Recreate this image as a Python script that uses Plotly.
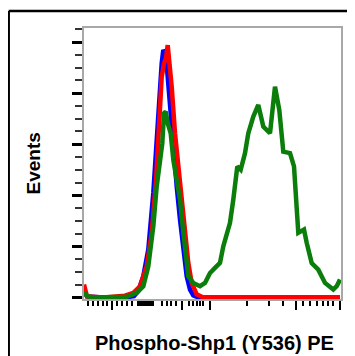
import plotly.graph_objects as go

# channel positions (display units) and event counts (% of max)
blue_x = [0, 3, 20, 40, 50, 54.3, 59.3, 64.3, 69.3, 72.7, 75.3, 77.7, 79.3, 81.7, 83.7, 86.7, 89.3, 92.7, 96, 99.3, 102.7, 106, 109.3, 114.3, 256]
blue_y = [3, 0.4, 0, 0, 0.5, 2.5, 8.3, 18.8, 40.9, 64.3, 82.5, 91.7, 96.9, 95.6, 86.4, 70.8, 57.8, 43.5, 30.5, 18.8, 8.3, 3.1, 0.8, 0, 0]

red_x = [0, 3, 20, 41, 49.3, 56, 62.7, 67.7, 72, 75.3, 77.7, 80, 82, 83.7, 85.3, 87.7, 91, 94.3, 97.7, 101, 104.3, 107.7, 112.7, 119.3, 256]
red_y = [5.1, 0.4, 0, 0.7, 1.8, 4.4, 12.2, 25.3, 45.6, 70.8, 86.4, 91.7, 93.6, 98.8, 93.0, 82.5, 64.3, 51.3, 38.3, 25.3, 13.5, 5.7, 1.2, 0, 0]

green_x = [0, 3, 10, 30, 43, 52.7, 59.3, 64.3, 69.3, 72.7, 76, 78.3, 80, 81.7, 83.7, 86.7, 89.3, 92.7, 96, 99.3, 102, 104.3,
           109.3, 116, 121, 126, 131, 136, 139.3, 142.7, 146, 149.3, 153.3, 156.7, 161, 164.3, 169.3, 174.3, 179.3, 186,
           191, 195.3, 199.3, 206, 210, 214.3, 220, 222.7, 227.7, 234.3, 241, 249.3, 252.7, 256]
green_y = [2, 0.5, 0, 0, 0.3, 1.8, 4.4, 12.2, 27.9, 43.5, 55.2, 60.4, 72.1, 72.8, 68.2, 64.3, 53.9, 46.1, 38.3, 25.3, 14.8, 8.3,
           5.7, 4.4, 5.7, 9.6, 11.6, 13.5, 20.0, 25.3, 29.2, 38.3, 51.3, 50.0, 56.5, 64.3, 70.8, 75.4, 66.9, 64.3,
           82.5, 73.4, 57.1, 56.5, 51.3, 25.3, 26.6, 21.4, 13.5, 10.9, 5.7, 3.1, 4.4, 7.0]

x_major_ticks = [28, 98, 126, 212, 255.5]
x_minor_ticks = [4, 9, 14, 19, 23, 33, 38, 43, 48, 54, 55.5, 57, 58.5, 60, 61.5, 63, 64.5, 66, 67.5, 69,
                 78.3, 82.7, 86.7, 92, 105.3, 109.3, 112.7, 116, 119.3, 162.7, 185.3, 198.7,
                 219.3, 226, 232.7, 238.7, 244.3, 249.3]
y_major_ticks = [0, 20, 40, 60, 80, 100]
y_minor_ticks = [5, 10, 15, 25, 30, 35, 45, 50, 55, 65, 70, 75, 85, 90, 95, 105]

fig = go.Figure()
for xs, ys, col in [(blue_x, blue_y, "#0000ff"), (red_x, red_y, "#ff0000"), (green_x, green_y, "#0a7d0a")]:
    fig.add_trace(go.Scatter(x=xs, y=ys, mode="lines", line=dict(color=col, width=4.5), showlegend=False, hoverinfo="skip"))

fig.update_layout(
    width=347, height=348,
    margin=dict(l=76, r=14, t=20, b=57),
    paper_bgcolor="white", plot_bgcolor="white",
    font=dict(family="Liberation Sans, Arial, sans-serif", color="black"),
)
fig.update_xaxes(
    range=[0, 257], showgrid=False, zeroline=False,
    showline=True, linecolor="#a8a8a8", linewidth=1.5, mirror=True,
    tickmode="array", tickvals=x_major_ticks, ticks="outside", ticklen=9, tickwidth=2, tickcolor="black",
    showticklabels=False,
    minor=dict(tickmode="array", tickvals=x_minor_ticks, ticks="outside", ticklen=5, tickwidth=1.5, tickcolor="black", showgrid=False),
)
fig.update_yaxes(
    range=[-0.6, 105.5], showgrid=False, zeroline=False,
    showline=True, linecolor="#a8a8a8", linewidth=1.5, mirror=True,
    tickmode="array", tickvals=y_major_ticks, ticks="outside", ticklen=10, tickwidth=2.5, tickcolor="black",
    showticklabels=False,
    minor=dict(tickmode="array", tickvals=y_minor_ticks, ticks="outside", ticklen=7, tickwidth=1.5, tickcolor="#333333", showgrid=False),
)

# outer frame (top and left black lines)
fig.add_shape(type="line", xref="paper", yref="paper", x0=-0.293, x1=1.1, y0=1.063, y1=1.063, line=dict(color="black", width=2.5))
fig.add_shape(type="line", xref="paper", yref="paper", x0=-0.293, x1=-0.293, y0=1.063, y1=-0.3, line=dict(color="black", width=2.5))

fig.add_annotation(text="<b>Events</b>", xref="paper", yref="paper", x=(33 - 84) / 257, y=(297.5 - 162) / 271,
                   showarrow=False, textangle=-90, font=dict(size=19), xanchor="center", yanchor="middle")
fig.add_annotation(text="<b>Phospho-Shp1 (Y536) PE</b>", xref="paper", yref="paper", x=(214 - 84) / 257, y=(297.5 - 341) / 271,
                   showarrow=False, font=dict(size=20), xanchor="center", yanchor="middle")

fig.write_html("out.html")
